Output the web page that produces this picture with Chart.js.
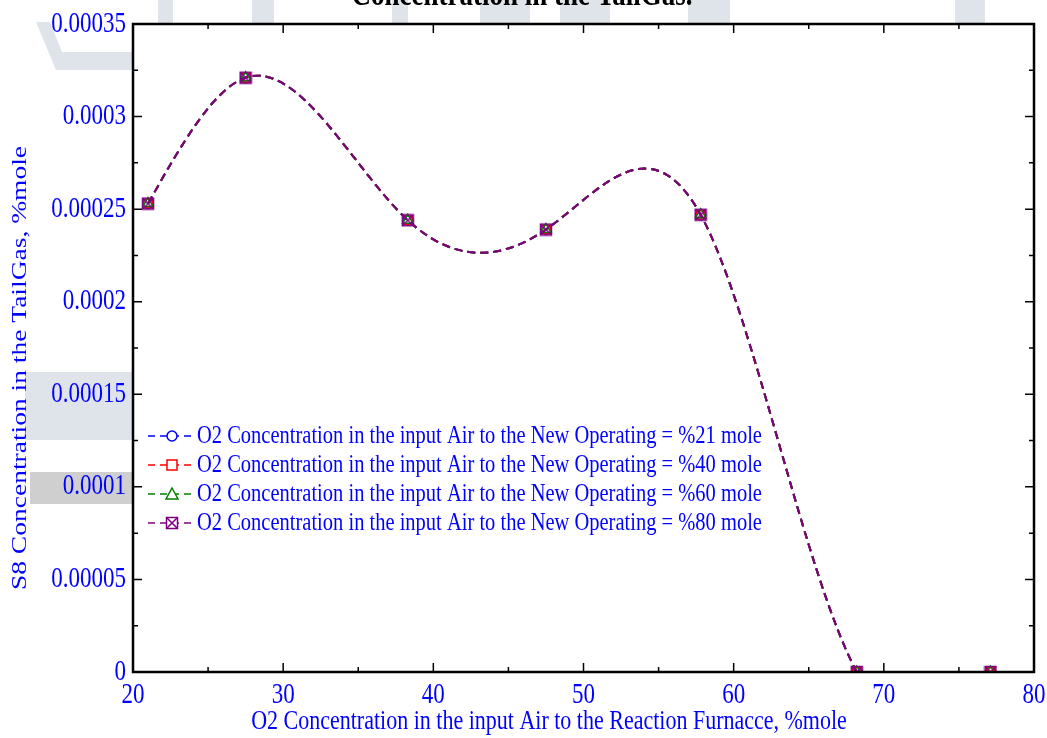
<!DOCTYPE html>
<html>
<head>
<meta charset="utf-8">
<script src="https://cdn.jsdelivr.net/npm/chart.js@4/dist/chart.umd.min.js"></script>
<style>
  body { margin: 0; background: #fff; }
  #wrap { width: 1047px; height: 738px; }
</style>
</head>
<body>
<div id="wrap"><canvas id="chart" width="1047" height="738"></canvas></div>
<script>
// data
const o2Air = [21, 27.5, 38.3, 47.5, 57.8, 68.2, 77.1];
const s8At21 = [0.000253, 0.000321, 0.000244, 0.000239, 0.000247, 0, 0];
const s8At40 = [0.000253, 0.000321, 0.000244, 0.000239, 0.000247, 0, 0];
const s8At60 = [0.000253, 0.000321, 0.000244, 0.000239, 0.000247, 0, 0];
const s8At80 = [0.000253, 0.000321, 0.000244, 0.000239, 0.000247, 0, 0];
const seriesNames = [
  "O2 Concentration in the input Air to the New Operating = %21 mole",
  "O2 Concentration in the input Air to the New Operating = %40 mole",
  "O2 Concentration in the input Air to the New Operating = %60 mole",
  "O2 Concentration in the input Air to the New Operating = %80 mole"
];
const xTickLabels = ["20", "30", "40", "50", "60", "70", "80"];
const yTickLabels = ["0", "0.00005", "0.0001", "0.00015", "0.0002", "0.00025", "0.0003", "0.00035"];

const serif = "'Liberation Serif', 'Times New Roman', serif";
const textBlue = "#0000ff";
const stretch = 1.25; // the figure is a bit taller than wide

// purple marker: box with a cross
function boxCross(color) {
    const c = document.createElement("canvas");
    c.width = 14; c.height = 14;
    const g = c.getContext("2d");
    g.strokeStyle = color;
    g.lineWidth = 1.5;
    g.strokeRect(1.5, 1.5, 11, 11);
    g.beginPath();
    g.moveTo(1.5, 1.5); g.lineTo(12.5, 12.5);
    g.moveTo(12.5, 1.5); g.lineTo(1.5, 12.5);
    g.stroke();
    return c;
}

function points(ys) {
    return o2Air.map((x, i) => ({ x: x, y: ys[i] }));
}

const colors = ["#0000ff", "#ff0000", "#008000", "#800080"];
const styles = ["circle", "rect", "triangle", boxCross("#800080")];
const sizes = [5, 6, 6, 7];
const allSeries = [s8At21, s8At40, s8At60, s8At80];

const datasets = allSeries.map((ys, i) => ({
    label: seriesNames[i],
    data: points(ys),
    borderColor: colors[i],
    backgroundColor: "rgba(0,0,0,0)",
    borderWidth: 2,
    borderDash: [8, 5],
    tension: 0.4,
    pointStyle: styles[i],
    pointRadius: sizes[i],
    pointBorderColor: colors[i],
    pointBackgroundColor: "rgba(0,0,0,0)",
    pointBorderWidth: 1.5,
    order: 3 - i
}));

// natural cubic spline through the points (in pixel space)
const splinePlugin = {
    id: "spline",
    beforeDatasetsDraw(chart) {
        chart.getSortedVisibleDatasetMetas().forEach(meta => {
            const pts = meta.data;
            const n = pts.length;
            if (n < 3) return;
            const h = [], M = new Array(n).fill(0);
            for (let i = 0; i < n - 1; i++) h.push(pts[i + 1].x - pts[i].x);
            const a = [], b = [], c = [], d = [];
            for (let i = 1; i < n - 1; i++) {
                a.push(h[i - 1]);
                b.push(2 * (h[i - 1] + h[i]));
                c.push(h[i]);
                d.push(6 * ((pts[i + 1].y - pts[i].y) / h[i] - (pts[i].y - pts[i - 1].y) / h[i - 1]));
            }
            const m = b.length;
            for (let i = 1; i < m; i++) {
                const w = a[i] / b[i - 1];
                b[i] -= w * c[i - 1];
                d[i] -= w * d[i - 1];
            }
            const sol = new Array(m);
            sol[m - 1] = d[m - 1] / b[m - 1];
            for (let i = m - 2; i >= 0; i--) sol[i] = (d[i] - c[i] * sol[i + 1]) / b[i];
            for (let i = 0; i < m; i++) M[i + 1] = sol[i];

            pts[0].cp1x = pts[0].x; pts[0].cp1y = pts[0].y;
            pts[n - 1].cp2x = pts[n - 1].x; pts[n - 1].cp2y = pts[n - 1].y;
            for (let i = 0; i < n - 1; i++) {
                const p0 = pts[i], p1 = pts[i + 1], hh = h[i];
                const s = (p1.y - p0.y) / hh;
                const d0 = s - hh * (2 * M[i] + M[i + 1]) / 6;
                const d1 = s + hh * (M[i] + 2 * M[i + 1]) / 6;
                p0.cp2x = p0.x + hh / 3; p0.cp2y = p0.y + d0 * hh / 3;
                p1.cp1x = p1.x - hh / 3; p1.cp1y = p1.y - d1 * hh / 3;
            }
            meta.dataset._pointsUpdated = true;
            meta.dataset._path = undefined;
        });
    }
};

// faint watermark behind the figure, white plot area
const backPlugin = {
    id: "back",
    beforeDraw(chart) {
        const ctx = chart.ctx, a = chart.chartArea;
        ctx.save();
        ctx.fillStyle = "#ffffff";
        ctx.fillRect(0, 0, chart.width, chart.height);
        ctx.fillStyle = "#dfe4ea";
        ctx.beginPath();
        ctx.moveTo(36, 22); ctx.lineTo(50, 22); ctx.lineTo(62, 52);
        ctx.lineTo(140, 52); ctx.lineTo(140, 70); ctx.lineTo(56, 70);
        ctx.closePath(); ctx.fill();
        [[158, 15], [252, 22], [392, 16], [480, 50], [560, 50], [688, 42], [955, 30]].forEach(r => {
            ctx.fillRect(r[0], 0, r[1], 24);
        });
        ctx.fillRect(25, 372, 110, 68);
        ctx.fillStyle = "#cfcfcf";
        ctx.fillRect(30, 472, 105, 32);
        ctx.fillStyle = "#ffffff";
        ctx.fillRect(a.left, a.top, a.right - a.left, a.bottom - a.top);
        ctx.restore();
    }
};

function stretchedText(ctx, text, x, y) {
    ctx.save();
    ctx.translate(x, y);
    ctx.scale(1, stretch);
    ctx.fillText(text, 0, 0);
    ctx.restore();
}

// frame, inward ticks, tick labels, titles and the legend
const framePlugin = {
    id: "frame",
    afterDraw(chart) {
        const ctx = chart.ctx, a = chart.chartArea;
        const xs = chart.scales.x, ys = chart.scales.y;
        ctx.save();
        ctx.strokeStyle = "#000";
        ctx.lineWidth = 1.5;
        ctx.beginPath();
        for (let v = 20; v <= 80; v += 5) {
            const px = xs.getPixelForValue(v);
            const len = v % 10 === 0 ? 9 : 5;
            ctx.moveTo(px, a.bottom); ctx.lineTo(px, a.bottom - len);
            ctx.moveTo(px, a.top); ctx.lineTo(px, a.top + len);
        }
        for (let k = 0; k <= 14; k++) {
            const py = ys.getPixelForValue(k * 0.000025);
            const len = k % 2 === 0 ? 9 : 5;
            ctx.moveTo(a.left, py); ctx.lineTo(a.left + len, py);
            ctx.moveTo(a.right, py); ctx.lineTo(a.right - len, py);
        }
        ctx.stroke();
        ctx.lineWidth = 2.5;
        ctx.strokeRect(a.left, a.top, a.right - a.left, a.bottom - a.top);

        // tick labels from the scales
        ctx.fillStyle = textBlue;
        ctx.font = "23px " + serif;
        ctx.textBaseline = "middle";
        ctx.textAlign = "right";
        ys.ticks.forEach((t, i) => {
            stretchedText(ctx, yTickLabels[i], a.left - 7, ys.getPixelForValue(t.value));
        });
        ctx.textAlign = "center";
        xs.ticks.forEach((t, i) => {
            stretchedText(ctx, xTickLabels[i], xs.getPixelForValue(t.value), a.bottom + 23);
        });

        // cut-off title
        ctx.fillStyle = "#000";
        ctx.textAlign = "center";
        ctx.textBaseline = "alphabetic";
        ctx.font = "bold 27px " + serif;
        stretchedText(ctx, "Concentration in the TailGas.", 522, 5);

        // axis titles
        ctx.fillStyle = textBlue;
        ctx.font = "22px " + serif;
        ctx.textBaseline = "middle";
        stretchedText(ctx, "O2 Concentration in the input Air to the Reaction Furnacce, %mole", 549, 722);
        ctx.save();
        ctx.translate(20, 368);
        ctx.rotate(-Math.PI / 2);
        ctx.scale(stretch, 1);
        ctx.fillText("S8 Concentration in the TailGas, %mole", 0, 0);
        ctx.restore();

        // legend inside the plot
        chart.data.datasets.forEach((ds, i) => {
            const y = a.top + 412 + i * 29;
            const x0 = a.left + 15;
            ctx.save();
            ctx.strokeStyle = ds.borderColor;
            ctx.lineWidth = 1.5;
            ctx.setLineDash([7, 5]);
            ctx.beginPath();
            ctx.moveTo(x0, y); ctx.lineTo(x0 + 48, y);
            ctx.stroke();
            ctx.setLineDash([]);
            const mx = x0 + 24;
            ctx.fillStyle = "#fff";
            if (ds.pointStyle === "circle") {
                ctx.beginPath(); ctx.arc(mx, y, 5, 0, Math.PI * 2); ctx.fill(); ctx.stroke();
            } else if (ds.pointStyle === "rect") {
                ctx.fillRect(mx - 5, y - 5, 10, 10); ctx.strokeRect(mx - 5, y - 5, 10, 10);
            } else if (ds.pointStyle === "triangle") {
                ctx.beginPath(); ctx.moveTo(mx, y - 6); ctx.lineTo(mx + 6, y + 5); ctx.lineTo(mx - 6, y + 5);
                ctx.closePath(); ctx.fill(); ctx.stroke();
            } else {
                ctx.fillRect(mx - 6, y - 6, 12, 12);
                ctx.drawImage(ds.pointStyle, mx - 7, y - 7);
            }
            ctx.restore();
            ctx.fillStyle = textBlue;
            ctx.font = "20.5px " + serif;
            ctx.textAlign = "left";
            ctx.textBaseline = "middle";
            stretchedText(ctx, ds.label, x0 + 49, y);
        });
        ctx.restore();
    }
};

new Chart(document.getElementById("chart"), {
    type: "line",
    data: { datasets: datasets },
    options: {
        responsive: false,
        animation: false,
        layout: { padding: { top: 24, right: 13, left: 0, bottom: 0 } },
        plugins: {
            legend: { display: false },
            tooltip: { enabled: false }
        },
        scales: {
            x: {
                type: "linear",
                min: 20,
                max: 80,
                afterFit: scale => { scale.height = 66; },
                grid: { display: false, drawTicks: false },
                border: { display: false },
                ticks: { stepSize: 10, display: false }
            },
            y: {
                min: 0,
                max: 0.00035,
                afterFit: scale => { scale.width = 133; },
                grid: { display: false, drawTicks: false },
                border: { display: false },
                ticks: { stepSize: 0.00005, display: false }
            }
        }
    },
    plugins: [backPlugin, splinePlugin, framePlugin]
});
</script>
</body>
</html>
